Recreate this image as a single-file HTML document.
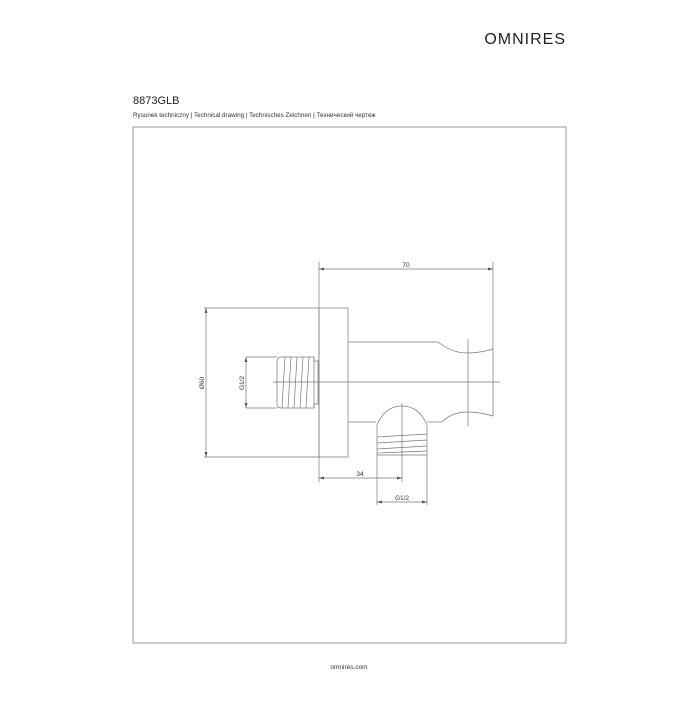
<!DOCTYPE html>
<html><head><meta charset="utf-8"><style>
body{margin:0;width:700px;height:700px;background:#fff;overflow:hidden;font-family:"Liberation Sans",sans-serif}
</style></head><body>
<svg width="700" height="700" viewBox="0 0 700 700" xmlns="http://www.w3.org/2000/svg" font-family="Liberation Sans, sans-serif">
<text x="566" y="44" text-anchor="end" font-size="16" letter-spacing="1" fill="#222">OMNIRES</text>
<text x="133" y="104" font-size="11" fill="#222">8873GLB</text>
<text x="133" y="117" font-size="6.3" fill="#333">Rysunek techniczny | Technical drawing | Technisches Zeichnen | Технический чертеж</text>
<rect x="133" y="127" width="433" height="516" fill="none" stroke="#999" stroke-width="1"/>
<text x="349" y="669" text-anchor="middle" font-size="6.5" fill="#333">omnires.com</text>
<g fill="none" stroke="#777" stroke-width="0.7">
<line x1="319" y1="269" x2="493" y2="269"/>
<line x1="319" y1="262" x2="319" y2="482"/>
<line x1="493" y1="262" x2="493" y2="349"/>
<rect x="319" y="308" width="29" height="149"/>
<line x1="204" y1="308" x2="319" y2="308"/>
<line x1="204" y1="457" x2="319" y2="457"/>
<line x1="206" y1="308" x2="206" y2="457"/>
<path d="M318 361 H314 V357 H281 Q277 357 277 361 V404 Q277 408 281 408 H314 V404 H318 Z"/>
<line x1="314" y1="357" x2="314" y2="408"/>
<path d="M285 357 L282 408 M291 357 L288 408 M297 357 L294 408 M303 357 L300 408 M309 357 L306 408"/>
<line x1="246" y1="357" x2="277" y2="357"/>
<line x1="246" y1="408" x2="277" y2="408"/>
<line x1="246" y1="357" x2="246" y2="408"/>
<line x1="273" y1="382" x2="500" y2="382"/>
<path d="M348 342 H438 Q452 353 467 353 Q480 353 493 349 V416 Q480 412 467 412 Q452 412 442 422"/>
<path d="M348 422 H376"/>
<path d="M427 422 H442"/>
<line x1="468" y1="339" x2="468" y2="426"/>
<path d="M377 455 V425 Q385 406 402 406 Q419 406 427 425 V455 Z"/>
<path d="M377 437 L427 434 M377 443 L427 440 M377 449 L427 446 M377 453 L427 451"/>
<line x1="402" y1="403" x2="402" y2="482"/>
<line x1="319" y1="478" x2="402" y2="478"/>
<line x1="377" y1="455" x2="377" y2="505"/>
<line x1="427" y1="455" x2="427" y2="505"/>
<line x1="377" y1="502" x2="427" y2="502"/>
</g>
<g fill="#555">
<path d="M319 269 l5 -1.5 v3z M493 269 l-5 -1.5 v3z"/>
<path d="M206 308 l-1.5 5 h3z M206 457 l-1.5 -5 h3z"/>
<path d="M246 357 l-1.5 5 h3z M246 408 l-1.5 -5 h3z"/>
<path d="M319 478 l5 -1.5 v3z M402 478 l-5 -1.5 v3z"/>
<path d="M377 502 l5 -1.5 v3z M427 502 l-5 -1.5 v3z"/>
</g>
<g font-size="6.5" fill="#333" text-anchor="middle">
<text x="406" y="267">70</text>
<text x="360" y="476">34</text>
<text x="402" y="500">G1/2</text>
<text transform="translate(204 383) rotate(-90)">Ø60</text>
<text transform="translate(244 383) rotate(-90)">G1/2</text>
</g>
</svg>
</body></html>
